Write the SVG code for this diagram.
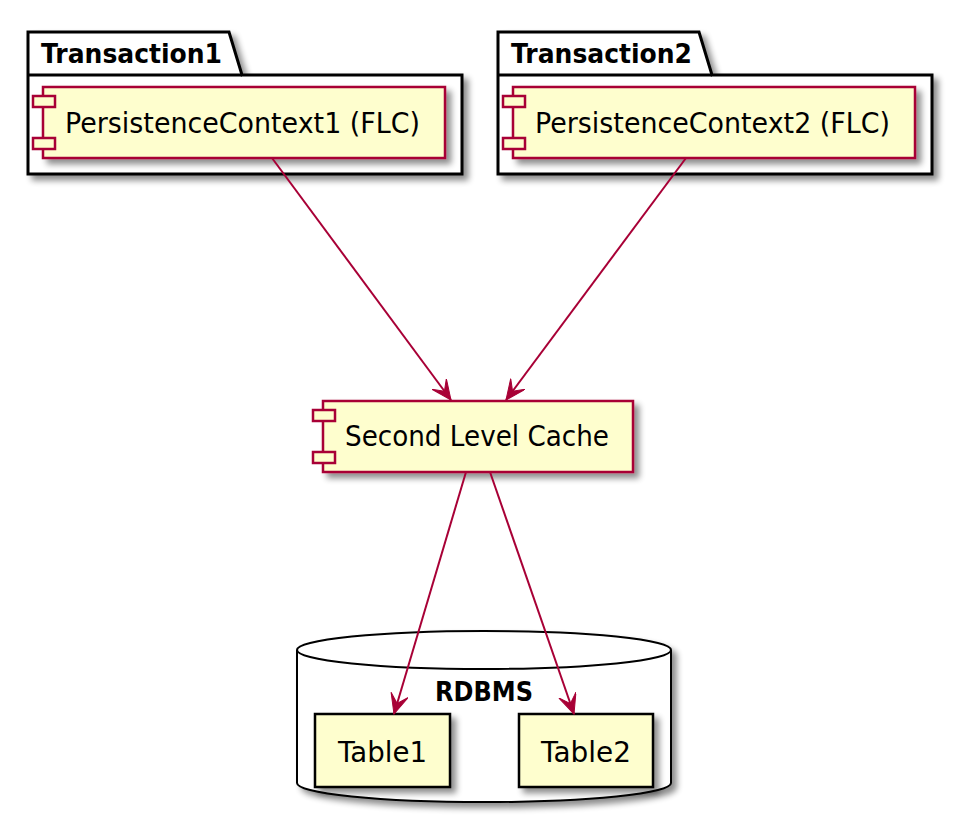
<svg xmlns="http://www.w3.org/2000/svg" width="972" height="824" viewBox="0 0 972 824">
<defs>
<filter id="sh" x="-10%" y="-10%" width="130%" height="140%">
<feGaussianBlur in="SourceAlpha" stdDeviation="3"/>
<feOffset dx="5" dy="5" result="b"/>
<feComponentTransfer><feFuncA type="linear" slope="0.45"/></feComponentTransfer>
<feMerge><feMergeNode/><feMergeNode in="SourceGraphic"/></feMerge>
</filter>
<marker id="ah" markerUnits="userSpaceOnUse" markerWidth="22" markerHeight="20" refX="20" refY="9" orient="auto">
<path d="M20,9 L0,0 L9,9 L0,18 Z" fill="#A80036" stroke="#A80036" stroke-width="1" stroke-linejoin="miter"/>
</marker>
<style>
.pkg{fill:#FFFFFF;stroke:#000000;stroke-width:3}
.comp{fill:#FEFECE;stroke:#A80036;stroke-width:2.5}
.tbl{fill:#FEFECE;stroke:#000000;stroke-width:2.5}
.db{fill:#FFFFFF;stroke:#000000;stroke-width:2}
.lbl{font-family:"DejaVu Sans","Liberation Sans",sans-serif;font-size:28px;fill:#000000}
.ttl{font-family:"DejaVu Sans","Liberation Sans",sans-serif;font-size:26px;font-weight:bold;fill:#000000}
.conn{stroke:#A80036;stroke-width:2;fill:none}
</style>
</defs>
<rect width="972" height="824" fill="#FFFFFF"/>

<g id="Transaction1">
<path class="pkg" filter="url(#sh)" d="M28,32 L229,32 L242,75 L462,75 L462,174 L28,174 Z"/>
<path class="pkg" d="M28,75 L242,75"/>
<text class="ttl" x="41" y="63" textLength="181" lengthAdjust="spacingAndGlyphs">Transaction1</text>
</g>
<g id="PersistenceContext1">
<rect class="comp" filter="url(#sh)" x="43" y="87" width="402" height="71"/>
<rect class="comp" x="33" y="96" width="22" height="11"/>
<rect class="comp" x="33" y="138" width="22" height="11"/>
<text class="lbl" x="65" y="133" textLength="355" lengthAdjust="spacingAndGlyphs">PersistenceContext1 (FLC)</text>
</g>

<g id="Transaction2">
<path class="pkg" filter="url(#sh)" d="M498,32 L699,32 L712,75 L932,75 L932,174 L498,174 Z"/>
<path class="pkg" d="M498,75 L712,75"/>
<text class="ttl" x="511" y="63" textLength="181" lengthAdjust="spacingAndGlyphs">Transaction2</text>
</g>
<g id="PersistenceContext2">
<rect class="comp" filter="url(#sh)" x="513" y="87" width="402" height="71"/>
<rect class="comp" x="503" y="96" width="22" height="11"/>
<rect class="comp" x="503" y="138" width="22" height="11"/>
<text class="lbl" x="535" y="133" textLength="355" lengthAdjust="spacingAndGlyphs">PersistenceContext2 (FLC)</text>
</g>

<g id="SecondLevelCache">
<rect class="comp" filter="url(#sh)" x="323" y="401" width="310" height="71"/>
<rect class="comp" x="313" y="410" width="22" height="11"/>
<rect class="comp" x="313" y="452" width="22" height="11"/>
<text class="lbl" x="345" y="446" textLength="264" lengthAdjust="spacingAndGlyphs">Second Level Cache</text>
</g>

<g id="RDBMS">
<path class="db" filter="url(#sh)" d="M297,650 A187,19 0 0 1 671,650 L671,783 A187,19 0 0 1 297,783 Z"/>
<path class="db" d="M297,650 A187,19 0 0 0 671,650"/>
<text class="ttl" x="435" y="701" textLength="98" lengthAdjust="spacingAndGlyphs">RDBMS</text>
</g>
<g id="Table1">
<rect class="tbl" filter="url(#sh)" x="315" y="714" width="135" height="73"/>
<text class="lbl" x="338" y="762" textLength="89" lengthAdjust="spacingAndGlyphs">Table1</text>
</g>
<g id="Table2">
<rect class="tbl" filter="url(#sh)" x="519" y="714" width="134" height="73"/>
<text class="lbl" x="541" y="762" textLength="90" lengthAdjust="spacingAndGlyphs">Table2</text>
</g>

<g id="connectors">
<path class="conn" marker-end="url(#ah)" d="M272,158 L451,400"/>
<path class="conn" marker-end="url(#ah)" d="M686,158 L506,400"/>
<path class="conn" marker-end="url(#ah)" d="M466,472 L394,714"/>
<path class="conn" marker-end="url(#ah)" d="M490,472 L574,714"/>
</g>
</svg>
